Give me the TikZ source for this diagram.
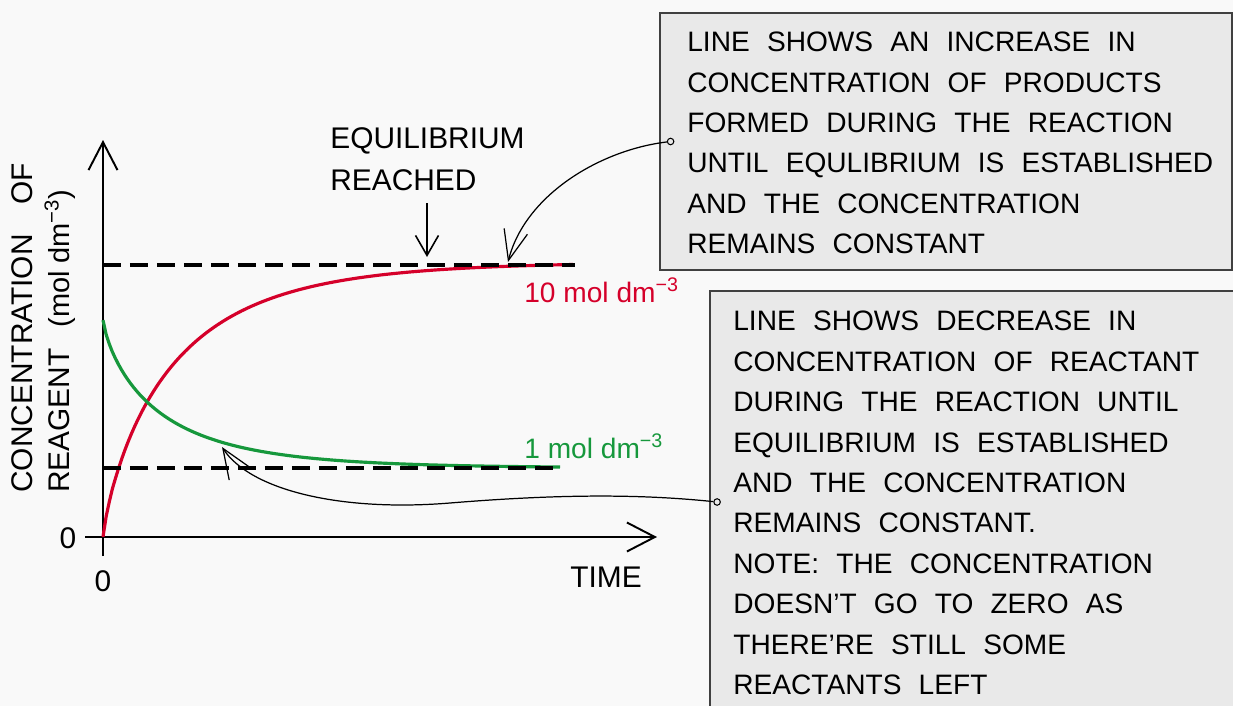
\documentclass[tikz,border=0pt]{standalone}
\usepackage{fontspec}
\setmainfont{Liberation Sans}
\newfontfamily\notefont[WordSpace=2.2]{Liberation Sans}
\usetikzlibrary{positioning,arrows.meta,shapes.misc}
\definecolor{prodred}{RGB}{213,0,42}
\definecolor{reactgreen}{RGB}{22,152,60}
\definecolor{boxgrey}{RGB}{233,233,233}
\definecolor{paper}{RGB}{249,249,249}

\begin{document}
\begin{tikzpicture}[x=0.02cm, y=-0.02cm,
axis/.style={line width=1.1pt, -{Straight Barb[length=5.6mm, width=5.8mm]}},
level/.style={line width=1.9pt, dash pattern=on 3.6mm off 1.8mm},
curve/.style={line width=1.8pt},
callout/.style={line width=0.7pt, -{Straight Barb[length=6mm, width=4.8mm]}},
eqarrow/.style={line width=0.9pt, -{Straight Barb[length=4mm, width=4.6mm]}},
notebox/.style={chamfered rectangle, chamfered rectangle corners={north west, south west},
  chamfered rectangle xsep=2mm, chamfered rectangle ysep=2mm,
  draw=black!75, line width=1.1pt, fill=boxgrey, inner sep=0pt},
notetext/.style={font=\notefont\fontsize{16}{23}\selectfont, align=left, inner sep=0pt},
dot/.style={circle, draw, fill=boxgrey, inner sep=0pt, minimum size=1.3mm, line width=0.6pt},
lbl/.style={font=\fontsize{17}{21}\selectfont, inner sep=0pt},
val/.style={font=\fontsize{16}{20}\selectfont, inner sep=0pt}]
\useasboundingbox (0,0) rectangle (1233,706);
\fill[paper] (0,0) rectangle (1233,706);

% axes
\coordinate (origin) at (103,537);
\coordinate (ytop) at (103,140);
\coordinate (xend) at (657,537);
\draw[axis] (103,556) -- (ytop);
\draw[axis] (85,537) -- (xend);

% concentration curves
\draw[curve, prodred] plot[domain=0.01:470, samples=150]
  ({103+\x}, {537-275*(1-exp(0-pow(\x/71.2,0.82)))});
\draw[curve, reactgreen] plot[domain=0.01:457, samples=150]
  ({103+\x}, {320+148*(1-exp(0-pow(\x/58,0.78)))});

% equilibrium levels
\draw[level] (103,265) -- (575,265);
\draw[level] (103,468) -- (560,468);

\node[val, text=prodred, anchor=west] (redval) at (524,290) {10 mol dm\textsuperscript{−3}};
\node[val, text=reactgreen, anchor=west] (greenval) at (524,446) {1 mol dm\textsuperscript{−3}};

% axis labels
\node[lbl] (yzero) at (68,538) {0};
\node[lbl] (xzero) at (103,581) {0};
\node[lbl] (timelbl) at (606,577) {TIME};
\node[lbl, rotate=90, align=left, anchor=south west] (ylbl) at (76,493)
  {CONCENTRATION\hspace{17pt}OF\\REAGENT\hspace{12pt}{\fontsize{16.5}{21}\selectfont(mol\kern0.25em dm\textsuperscript{−3})}};

% equilibrium reached
\node[lbl, font=\fontsize{17}{24}\selectfont, align=left, anchor=north west] (eqlbl) at (330,127)
  {EQUILIBRIUM\\REACHED};
\coordinate (eqtip) at (427,257);
\draw[eqarrow] (eqtip |- eqlbl.south) ++(0,12) -- (eqtip);

% notes
\node[notebox, minimum width=11.46cm, minimum height=5.14cm] (prodbox) at (946,141.5) {};
\node[notetext, anchor=west] (prodnote) at (687,143)
  {LINE SHOWS AN INCREASE IN\\CONCENTRATION OF PRODUCTS\\FORMED DURING THE REACTION\\UNTIL EQULIBRIUM IS ESTABLISHED\\AND THE CONCENTRATION\\REMAINS CONSTANT};
\node[notebox, minimum width=10.8cm, minimum height=8.44cm] (reactbox) at (980,502) {};
\node[notetext, anchor=west] (reactnote) at (733,503)
  {LINE SHOWS DECREASE IN\\CONCENTRATION OF REACTANT\\DURING THE REACTION UNTIL\\EQUILIBRIUM IS ESTABLISHED\\AND THE CONCENTRATION\\REMAINS CONSTANT.\\NOTE: THE CONCENTRATION\\DOESN’T GO TO ZERO AS\\THERE’RE STILL SOME\\REACTANTS LEFT};

% callouts
\node[dot] (proddot) at ([xshift=0.24cm]prodbox.west) {};
\coordinate (prodtip) at (508,262);
\draw[callout] (proddot) .. controls (600,150) and (525,195) .. (prodtip);
\node[dot] (reactdot) at ([xshift=0.16cm]reactbox.west) {};
\coordinate (reacttip) at (222,447);
\draw[callout] (reactdot) .. controls (640,494) and (560,494) .. (450,503)
  .. controls (340,512) and (250,490) .. (reacttip);
\end{tikzpicture}
\end{document}
